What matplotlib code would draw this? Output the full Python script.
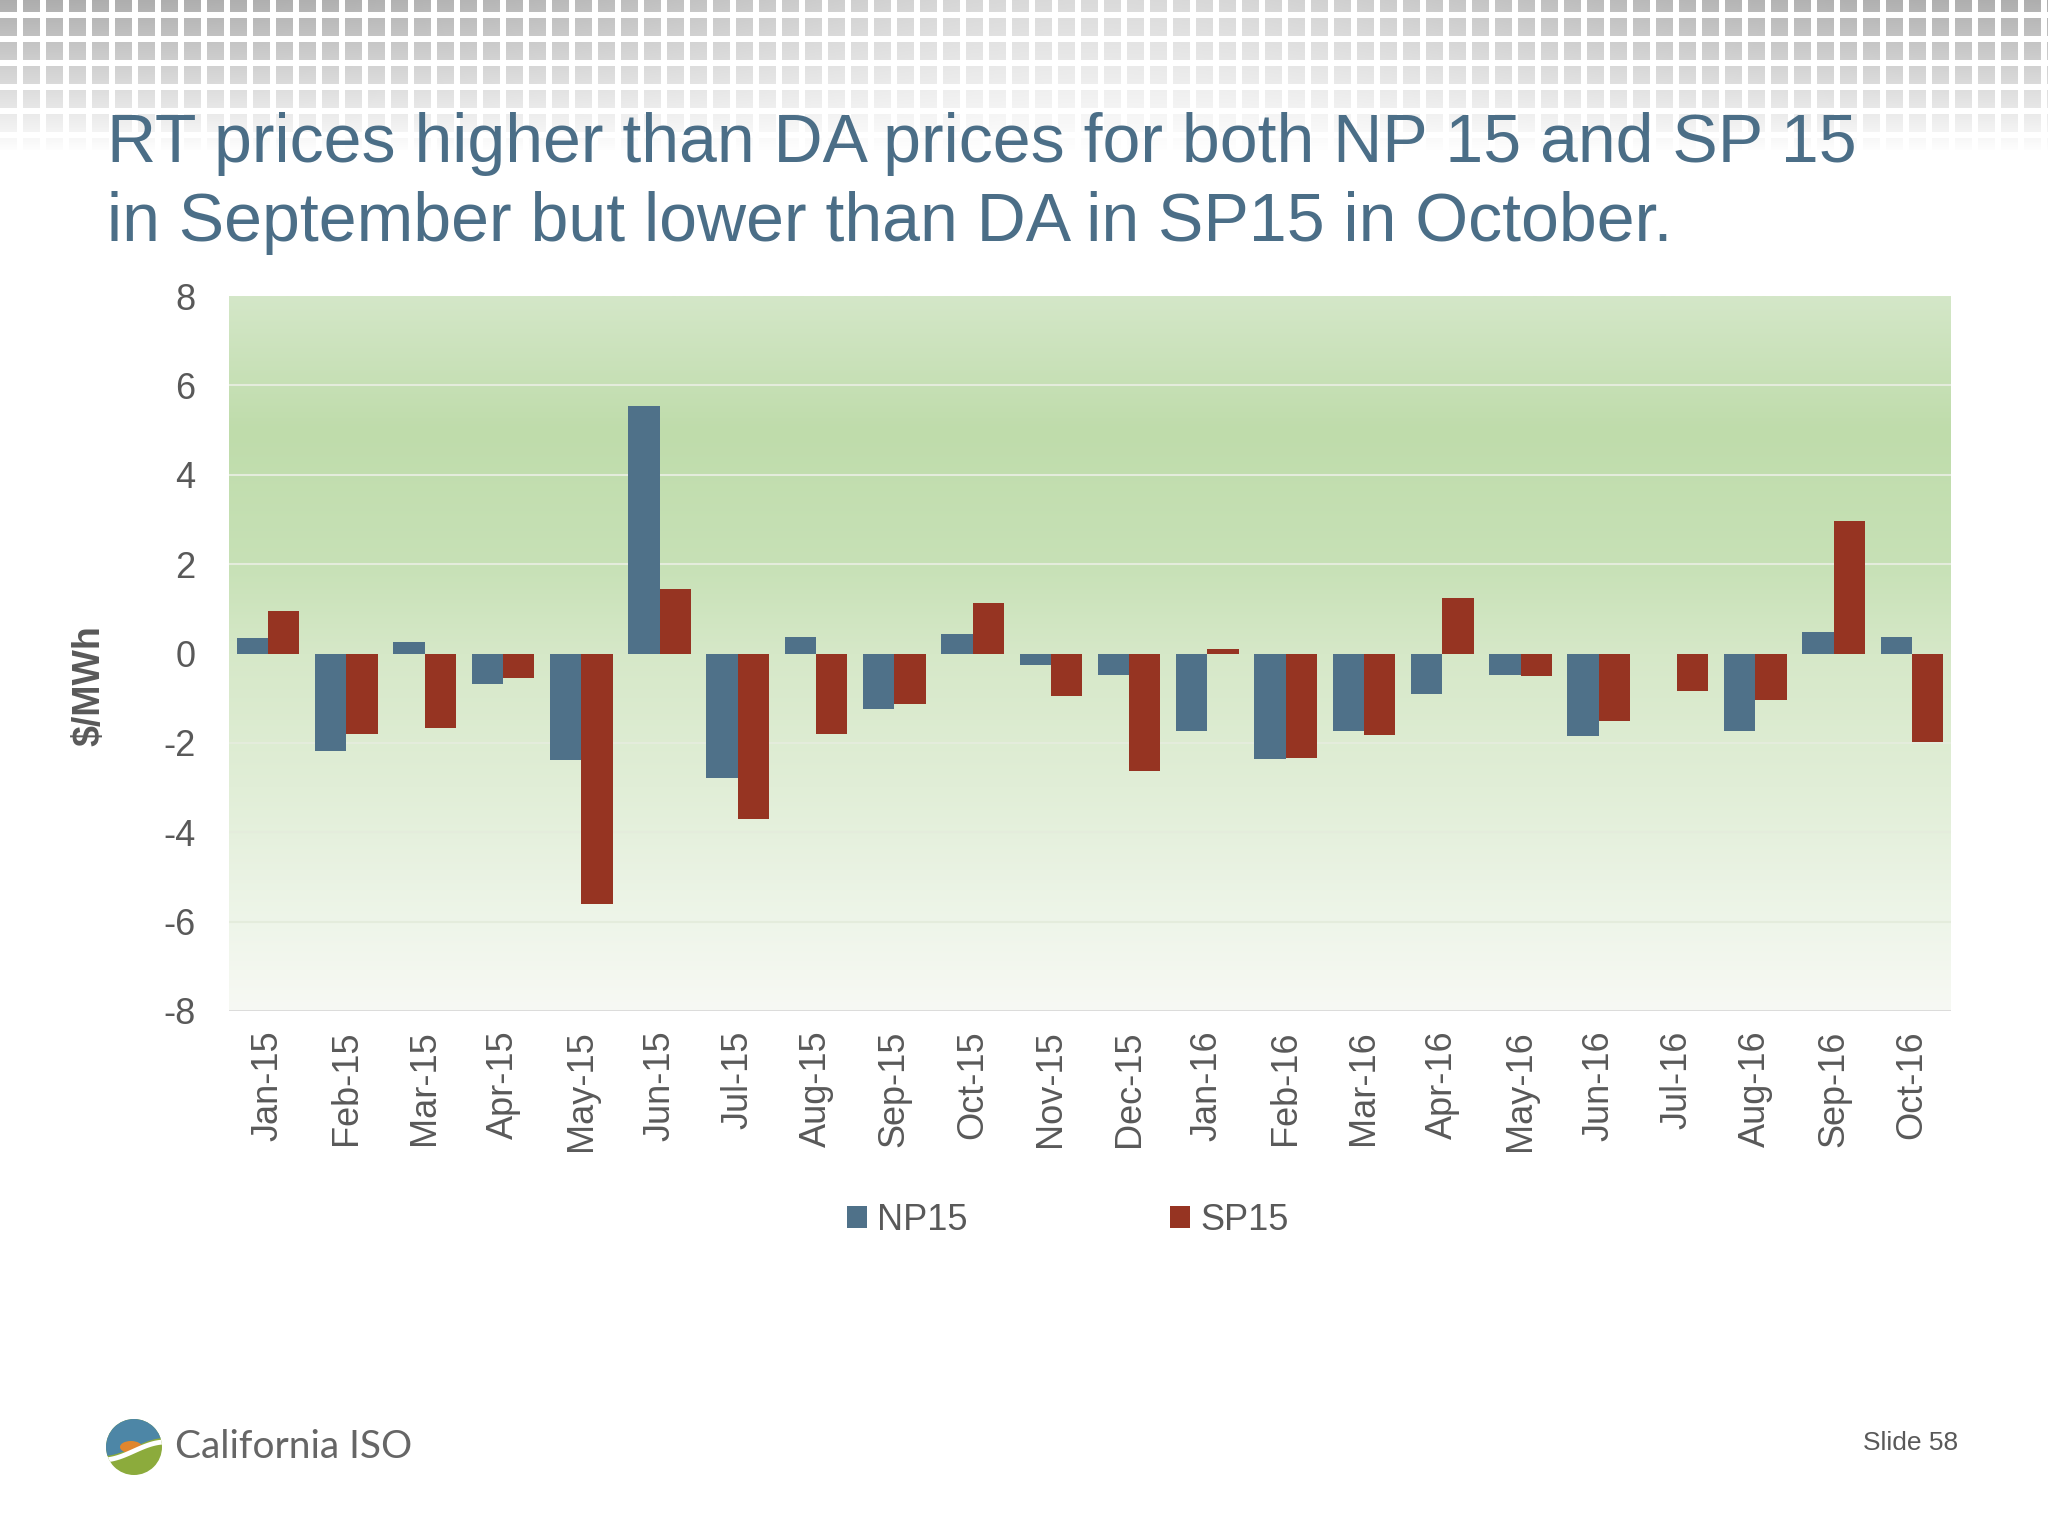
import numpy as np
import matplotlib.pyplot as plt
from matplotlib.patches import Circle, Ellipse, Polygon

months = ["Jan-15", "Feb-15", "Mar-15", "Apr-15", "May-15", "Jun-15", "Jul-15",
          "Aug-15", "Sep-15", "Oct-15", "Nov-15", "Dec-15", "Jan-16", "Feb-16",
          "Mar-16", "Apr-16", "May-16", "Jun-16", "Jul-16", "Aug-16", "Sep-16", "Oct-16"]
np15 = [0.34, -2.18, 0.25, -0.68, -2.38, 5.54, -2.79, 0.37, -1.25, 0.43, -0.26,
        -0.48, -1.73, -2.37, -1.73, -0.91, -0.47, -1.84, 0.0, -1.73, 0.49, 0.37]
sp15 = [0.95, -1.80, -1.66, -0.55, -5.60, 1.44, -3.70, -1.80, -1.13, 1.14, -0.94,
        -2.62, 0.10, -2.33, -1.82, 1.24, -0.51, -1.51, -0.83, -1.03, 2.97, -1.98]
yticks = [-8, -6, -4, -2, 0, 2, 4, 6, 8]

title_lines = ["RT prices higher than DA prices for both NP 15 and SP 15",
               "in September but lower than DA in SP15 in October."]

NP_COLOR = "#4f7189"
SP_COLOR = "#963422"
TXT = "#595959"
TITLE_COLOR = "#4b6e87"

plt.rcParams['font.family'] = ['Liberation Sans', 'DejaVu Sans']

W, H = 2048, 1536
fig = plt.figure(figsize=(W / 100, H / 100), dpi=100)
fig.patch.set_facecolor("white")

# background layer in pixel coords (header squares + logo)
bg = fig.add_axes([0, 0, 1, 1], zorder=-5)
bg.set_xlim(0, W)
bg.set_ylim(H, 0)
bg.axis("off")

hh = 150
yy, xx = np.mgrid[0:hh, 0:W]
mask = ((xx % 23) < 17) & (((yy + 6) % 24) < 18)
base = np.clip(0.68 + 0.0021 * yy, 0, 1)
light = np.exp(-((xx - 1100) / 480.0) ** 2)
gray = base + (1 - base) * 0.55 * light
gray = np.where(mask, gray, 1.0)
gray = np.clip(gray, 0, 1)
img = np.dstack([gray, gray, gray])
bg.imshow(img, extent=(0, W, hh, 0), aspect="auto", interpolation="bilinear")

# logo
cx, cy, r = 134, 1447, 28
disk = Circle((cx, cy), r, facecolor="#8cab3c", edgecolor="none")
bg.add_patch(disk)
wx = np.linspace(cx - r, cx + r, 60)
wy = cy + 4 - 9 * np.sin((wx - cx) / r * 1.4)
top = Polygon(np.vstack([np.column_stack([wx, wy - 4]), [[cx + r, cy - r - 2], [cx - r, cy - r - 2]]]),
              facecolor="#4d86a6", edgecolor="none")
bg.add_patch(top)
top.set_clip_path(disk)
sun = Ellipse((cx - 3, cy), 22, 12, facecolor="#e0862e", edgecolor="none")
bg.add_patch(sun)
sun.set_clip_path(disk)
wave, = bg.plot(wx, wy, color="white", lw=3.5)
wave.set_clip_path(disk)
bg.text(175, 1447, "California ISO", fontsize=28, color="#666666",
        family=["Lato", "DejaVu Sans"], va="center", ha="left")
bg.text(1958, 1443, "Slide 58", fontsize=19, color=TXT, va="center", ha="right")

# title
fig.text(107 / W, 1 - 162 / H, title_lines[0], fontsize=49, color=TITLE_COLOR, va="baseline")
fig.text(107 / W, 1 - 241 / H, title_lines[1], fontsize=49, color=TITLE_COLOR, va="baseline")

# chart
ax = fig.add_axes([229 / W, 1 - 1011 / H, (1951 - 229) / W, (1011 - 296) / H])
x = np.arange(len(months))

grad_y = np.linspace(8, -8, 400)
stops_y = [8, 5, 2, 0, -3, -6, -8]
stops_c = np.array([[212, 231, 200], [191, 220, 171], [199, 225, 182], [214, 232, 200],
                    [225, 238, 215], [238, 245, 233], [247, 249, 244]]) / 255.0
grad = np.stack([np.interp(grad_y, stops_y[::-1], stops_c[::-1, k]) for k in range(3)], axis=-1)
ax.imshow(grad[:, None, :].repeat(2, axis=1), extent=(-0.5, len(months) - 0.5, -8, 8),
          aspect="auto", zorder=0, interpolation="bilinear")

for t in yticks[1:-1]:
    if t != 0:
        ax.axhline(t, color="#e4ecdc", lw=1.5, zorder=1)
ax.axhline(-8, color="#d9d9d9", lw=2, zorder=1)

ax.bar(x - 0.2, np15, width=0.4, color=NP_COLOR, label="NP15", zorder=3)
ax.bar(x + 0.2, sp15, width=0.4, color=SP_COLOR, label="SP15", zorder=3)

ax.set_xlim(-0.5, len(months) - 0.5)
ax.set_ylim(-8, 8)
ax.set_yticks(yticks)
ax.set_yticklabels([str(v) for v in yticks])
ax.set_xticks(x)
ax.set_xticklabels(months, rotation=90)
ax.tick_params(axis="both", length=0, labelsize=26, labelcolor=TXT)
ax.tick_params(axis="y", pad=24)
ax.tick_params(axis="x", pad=14)
for s in ax.spines.values():
    s.set_visible(False)

fig.text(89 / W, 1 - 686 / H, "$/MWh", rotation=90, fontsize=27, fontweight="bold",
         color=TXT, ha="center", va="center")

ax.legend(loc="center", bbox_to_anchor=(1068 / W, 1 - 1220 / H), bbox_transform=fig.transFigure,
          ncol=2, frameon=False, fontsize=26, handlelength=0.55, handleheight=0.55,
          handletextpad=0.3, columnspacing=5.6, labelcolor=TXT)

fig.savefig("out.png", dpi=100, facecolor="white")
